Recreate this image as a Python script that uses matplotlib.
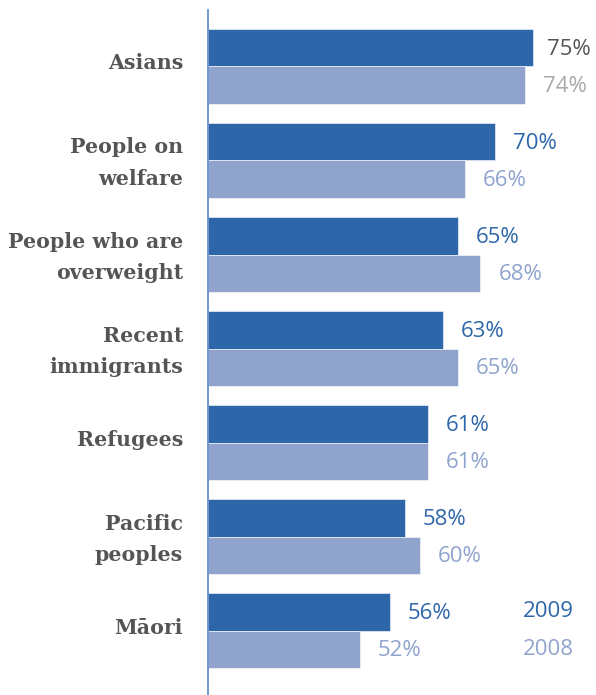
import matplotlib.pyplot as plt
import matplotlib.transforms as mtransforms
import numpy as np

# survey results, 2009 vs 2008
groups = ["Asians", "People on\nwelfare", "People who are\noverweight", "Recent\nimmigrants",
          "Refugees", "Pacific\npeoples", "Māori"]
vals_2009 = [75, 70, 65, 63, 61, 58, 56]
vals_2008 = [74, 66, 68, 65, 61, 60, 52]
years = ["2009", "2008"]

dark = "#2e67a9"
light = "#8fa3cd"

fig = plt.figure(figsize=(5.96, 6.95), dpi=100)
ax = fig.add_axes([208 / 596, 0, 388 / 596, 685 / 695])

y = np.arange(len(groups))
h = 0.4
ax.barh(y - h / 2, vals_2009, height=h, color=dark, edgecolor="white", linewidth=0.4)
ax.barh(y + h / 2, vals_2008, height=h, color=light, edgecolor="white", linewidth=0.4)

ax.set_xlim(31.8, 83.4)
ax.set_ylim(len(groups) - 1 + 0.686, -0.601)

for s in ["top", "right", "bottom"]:
    ax.spines[s].set_visible(False)
ax.spines["left"].set_color("#7097cc")
ax.spines["left"].set_linewidth(1.4)
ax.set_xticks([])
ax.set_yticks(y)
ax.set_yticklabels(groups, family="DejaVu Serif", fontweight="bold", fontsize=14.8,
                   color="#555555", linespacing=1.7)
ax.tick_params(axis="y", length=0, pad=18)
# nudge the group names up a little
shift = mtransforms.ScaledTranslation(0, 5 / 100, fig.dpi_scale_trans)
for lab in ax.get_yticklabels():
    lab.set_transform(lab.get_transform() + shift)

# value labels
for i in range(len(groups)):
    c1, c2 = dark, light
    if i == 0:
        c1, c2 = "#555555", "#aaaaaa"
    ax.annotate(f"{vals_2009[i]}%", (vals_2009[i], y[i] - h / 2), xytext=(10 if i == 0 else 13, -1),
                textcoords="offset points", va="center", ha="left", color=c1,
                fontsize=16, family="Open Sans")
    ax.annotate(f"{vals_2008[i]}%", (vals_2008[i], y[i] + h / 2), xytext=(13, -1),
                textcoords="offset points", va="center", ha="left", color=c2,
                fontsize=16, family="Open Sans")

# year key next to the last group
last = len(groups) - 1
ax.text(73.7, last - h / 2, years[0], color=dark, fontsize=16, family="Open Sans", va="center")
ax.text(73.7, last + h / 2, years[1], color=light, fontsize=16, family="Open Sans", va="center")

fig.savefig("out.png", dpi=100)
